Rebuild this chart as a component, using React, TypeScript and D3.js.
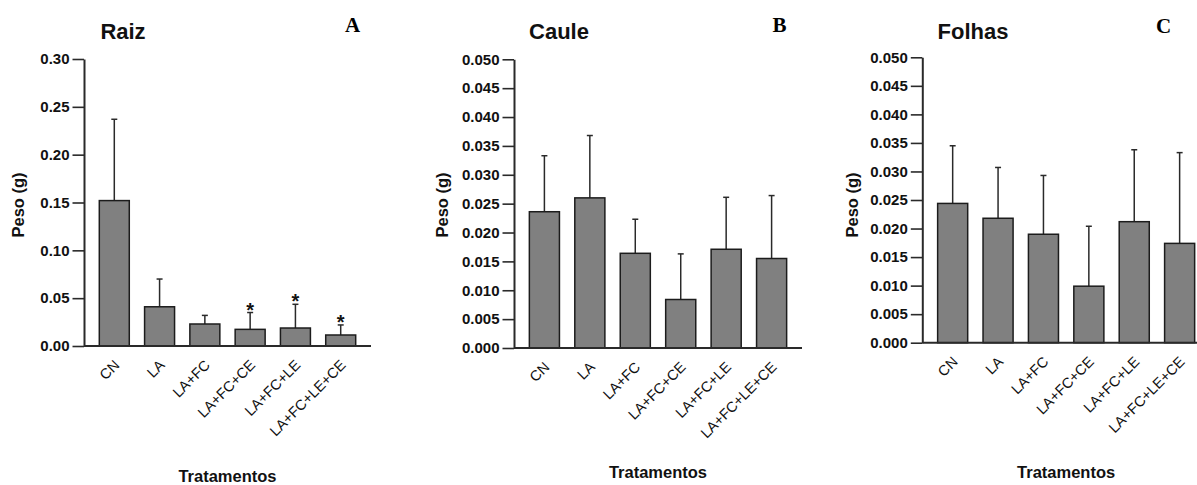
import React, { useEffect, useRef } from "react";
import * as d3 from "d3";

// treatments (x categories)
const categories = ["CN", "LA", "LA+FC", "LA+FC+CE", "LA+FC+LE", "LA+FC+LE+CE"];

// Raiz
const raizMean = [0.152, 0.041, 0.023, 0.0174, 0.0188, 0.0115];
const raizSd = [0.085, 0.029, 0.009, 0.0176, 0.0248, 0.0105];
const raizSig = [false, false, false, true, true, true];

// Caule
const cauleMean = [0.0236, 0.026, 0.0164, 0.0084, 0.0171, 0.0155];
const cauleSd = [0.0097, 0.0108, 0.0059, 0.0079, 0.009, 0.0109];

// Folhas
const folhasMean = [0.0244, 0.0218, 0.019, 0.0099, 0.0212, 0.0174];
const folhasSd = [0.0101, 0.0089, 0.0103, 0.0105, 0.0126, 0.0159];

const raizTicks = [0, 0.05, 0.1, 0.15, 0.2, 0.25, 0.3];
const smallTicks = [0, 0.005, 0.01, 0.015, 0.02, 0.025, 0.03, 0.035, 0.04, 0.045, 0.05];

const SANS = "'Liberation Sans', Arial, sans-serif";
const SERIF = "'Liberation Serif', 'Times New Roman', serif";
const INK = "#2a2a2a";

const App = () => {
  const ref = useRef<SVGSVGElement>(null);

  useEffect(() => {
    const svg = d3.select(ref.current);
    svg.selectAll("*").remove();

    const panels = [
      {
        title: "Raiz", letter: "A", mean: raizMean, sd: raizSd, sig: raizSig,
        ticks: raizTicks, fmt: ".2f", max: 0.3,
        x0: 84, x1: 371, yTop: 59, yBot: 346,
        titleX: 123, letterX: 345, letterY: 32, ylabX: 18, xlabY: 482,
      },
      {
        title: "Caule", letter: "B", mean: cauleMean, sd: cauleSd, sig: null,
        ticks: smallTicks, fmt: ".3f", max: 0.05,
        x0: 514, x1: 802, yTop: 59.3, yBot: 348,
        titleX: 559, letterX: 772.5, letterY: 32, ylabX: 442, xlabY: 478,
      },
      {
        title: "Folhas", letter: "C", mean: folhasMean, sd: folhasSd, sig: null,
        ticks: smallTicks, fmt: ".3f", max: 0.05,
        x0: 922.3, x1: 1210, yTop: 57.3, yBot: 342.7,
        titleX: 973, letterX: 1156, letterY: 33, ylabX: 852, xlabY: 478,
      },
    ];

    panels.forEach((p) => {
      const g = svg.append("g");

      const x = d3.scaleBand<string>()
        .domain(categories)
        .range([p.x0, p.x1])
        .padding(0.338);

      const y = d3.scaleLinear()
        .domain([0, p.max])
        .range([p.yBot, p.yTop]);

      // y axis
      const yAxis = g.append("g")
        .attr("transform", `translate(${p.x0},0)`)
        .call(
          d3.axisLeft(y)
            .tickValues(p.ticks)
            .tickFormat(d3.format(p.fmt))
            .tickSize(11.5)
            .tickSizeOuter(0)
            .tickPadding(3)
        );
      yAxis.select(".domain").attr("stroke", INK).attr("stroke-width", 2);
      yAxis.selectAll(".tick line").attr("stroke", INK).attr("stroke-width", 1.6);
      yAxis.selectAll(".tick text")
        .attr("fill", "#111")
        .style("font-family", SANS)
        .style("font-weight", "bold")
        .style("font-size", "15px");

      const data = categories.map((c, i) => ({ c, m: p.mean[i], sd: p.sd[i], sig: p.sig ? p.sig[i] : false }));

      // error bars (upper only)
      const err = g.append("g");
      data.forEach((d) => {
        const cx = (x(d.c) as number) + x.bandwidth() / 2;
        err.append("line")
          .attr("x1", cx).attr("x2", cx)
          .attr("y1", y(d.m)).attr("y2", y(d.m + d.sd))
          .attr("stroke", INK).attr("stroke-width", 1.5);
        err.append("line")
          .attr("x1", cx - 3).attr("x2", cx + 3)
          .attr("y1", y(d.m + d.sd)).attr("y2", y(d.m + d.sd))
          .attr("stroke", INK).attr("stroke-width", 1.5);
        if (d.sig) {
          err.append("text")
            .attr("x", cx)
            .attr("y", y(d.m + d.sd) + 4)
            .attr("text-anchor", "middle")
            .style("font-family", SANS)
            .style("font-weight", "bold")
            .style("font-size", "20px")
            .attr("fill", "#111")
            .text("*");
        }
      });

      // bars
      g.append("g")
        .selectAll("rect")
        .data(data)
        .join("rect")
        .attr("x", (d) => x(d.c) as number)
        .attr("y", (d) => y(d.m))
        .attr("width", x.bandwidth())
        .attr("height", (d) => y(0) - y(d.m))
        .attr("fill", "#808080")
        .attr("stroke", "#1c1c1c")
        .attr("stroke-width", 1.5);

      // x axis line
      g.append("line")
        .attr("x1", p.x0).attr("x2", p.x1)
        .attr("y1", p.yBot).attr("y2", p.yBot)
        .attr("stroke", INK).attr("stroke-width", 2);

      // x tick labels, rotated
      g.append("g")
        .selectAll("text")
        .data(categories)
        .join("text")
        .attr("transform", (d) => {
          const cx = (x(d) as number) + x.bandwidth() / 2 + 6;
          return `translate(${cx},${p.yBot + 20}) rotate(-45)`;
        })
        .attr("text-anchor", "end")
        .style("font-family", SANS)
        .style("font-size", "14.5px")
        .attr("fill", "#111")
        .text((d) => d);

      // title
      g.append("text")
        .attr("x", p.titleX).attr("y", 39)
        .attr("text-anchor", "middle")
        .style("font-family", SANS)
        .style("font-weight", "bold")
        .style("font-size", "22px")
        .attr("fill", "#111")
        .text(p.title);

      // panel letter
      g.append("text")
        .attr("x", p.letterX).attr("y", p.letterY)
        .style("font-family", SERIF)
        .style("font-weight", "bold")
        .style("font-size", "21px")
        .attr("fill", "#000")
        .text(p.letter);

      // y label
      g.append("text")
        .attr("transform", `translate(${p.ylabX + 6},205) rotate(-90)`)
        .attr("text-anchor", "middle")
        .style("font-family", SANS)
        .style("font-weight", "bold")
        .style("font-size", "16.5px")
        .attr("fill", "#111")
        .text("Peso (g)");

      // x label
      g.append("text")
        .attr("x", (p.x0 + p.x1) / 2).attr("y", p.xlabY)
        .attr("text-anchor", "middle")
        .style("font-family", SANS)
        .style("font-weight", "bold")
        .style("font-size", "16.5px")
        .attr("fill", "#111")
        .text("Tratamentos");
    });
  }, []);

  return (
    <svg
      ref={ref}
      width={1197}
      height={485}
      style={{ position: "absolute", left: 0, top: 0, background: "#fff" }}
    />
  );
};

export default App;
